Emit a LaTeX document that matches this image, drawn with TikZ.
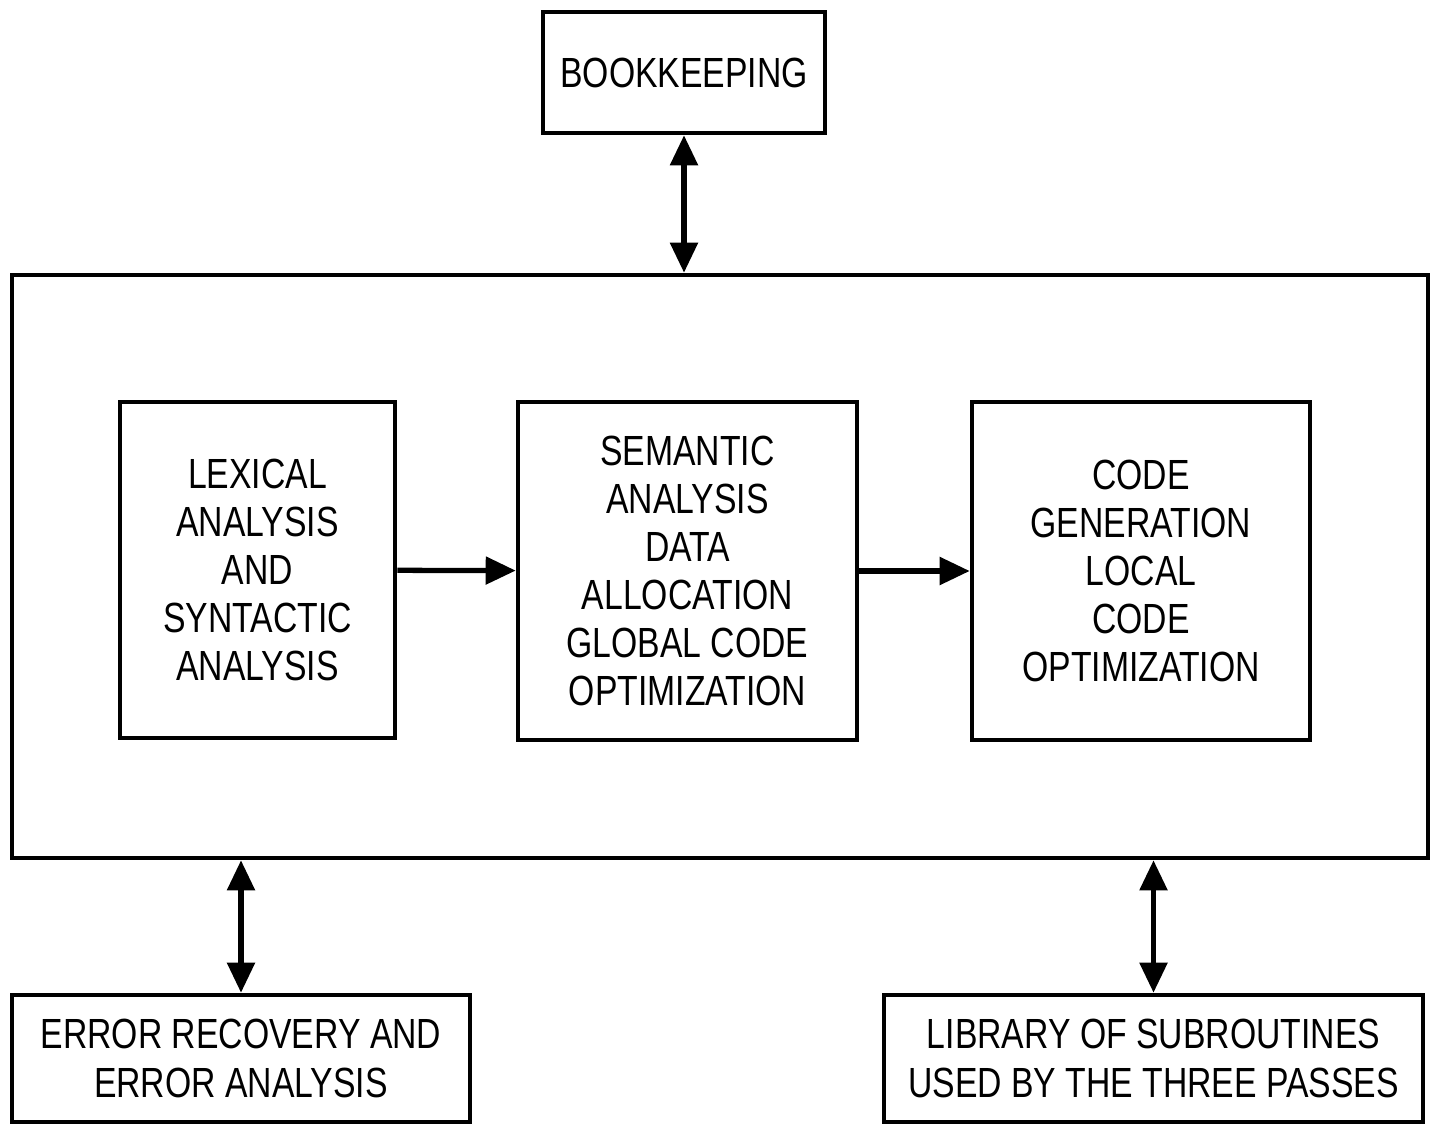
\documentclass[tikz,border=0pt]{standalone}
\usepackage{fontspec}
\setmainfont{Liberation Sans}[FakeStretch=0.8]
\usetikzlibrary{arrows.meta}

\begin{document}
\begin{tikzpicture}[
    box/.style={rectangle, draw, line width=1.3pt, inner sep=0pt, align=center, font=\fontsize{12}{13.7}\selectfont},
    arrow/.style={-{Triangle[length=0.3cm,width=0.27cm]}, line width=1.5pt},
    dblarrow/.style={{Triangle[length=0.3cm,width=0.27cm]}-{Triangle[length=0.3cm,width=0.27cm]}, line width=1.5pt},
]
\useasboundingbox (0,0) rectangle (14.35,11.25);
\node[box, minimum width=2.82cm, minimum height=1.21cm] (book) at (6.84,10.525) {BOOKKEEPING};
\node[box, minimum width=14.16cm, minimum height=5.83cm] (compiler) at (7.20,5.585) {};
\node[box, minimum width=2.75cm, minimum height=3.36cm] (lex) at (2.575,5.55) {LEXICAL\\ANALYSIS\\AND\\SYNTACTIC\\ANALYSIS};
\node[box, minimum width=3.39cm, minimum height=3.38cm] (sem) at (6.875,5.54) {SEMANTIC\\ANALYSIS\\DATA\\ALLOCATION\\GLOBAL CODE\\OPTIMIZATION};
\node[box, minimum width=3.38cm, minimum height=3.38cm] (codegen) at (11.41,5.54) {CODE\\GENERATION\\LOCAL\\CODE\\OPTIMIZATION};
\node[box, minimum width=4.58cm, minimum height=1.27cm] (error) at (2.41,0.665) {ERROR RECOVERY AND\\ERROR ANALYSIS};
\node[box, minimum width=5.39cm, minimum height=1.27cm] (library) at (11.535,0.665) {LIBRARY OF SUBROUTINES\\USED BY THE THREE PASSES};
\draw[dblarrow] (book.south) -- (book.south |- compiler.north);
\draw[arrow] (lex) -- (sem);
\draw[arrow] (sem) -- (codegen);
\draw[dblarrow] (error.north) -- (error.north |- compiler.south);
\draw[dblarrow] (library.north) -- (library.north |- compiler.south);
\end{tikzpicture}
\end{document}
